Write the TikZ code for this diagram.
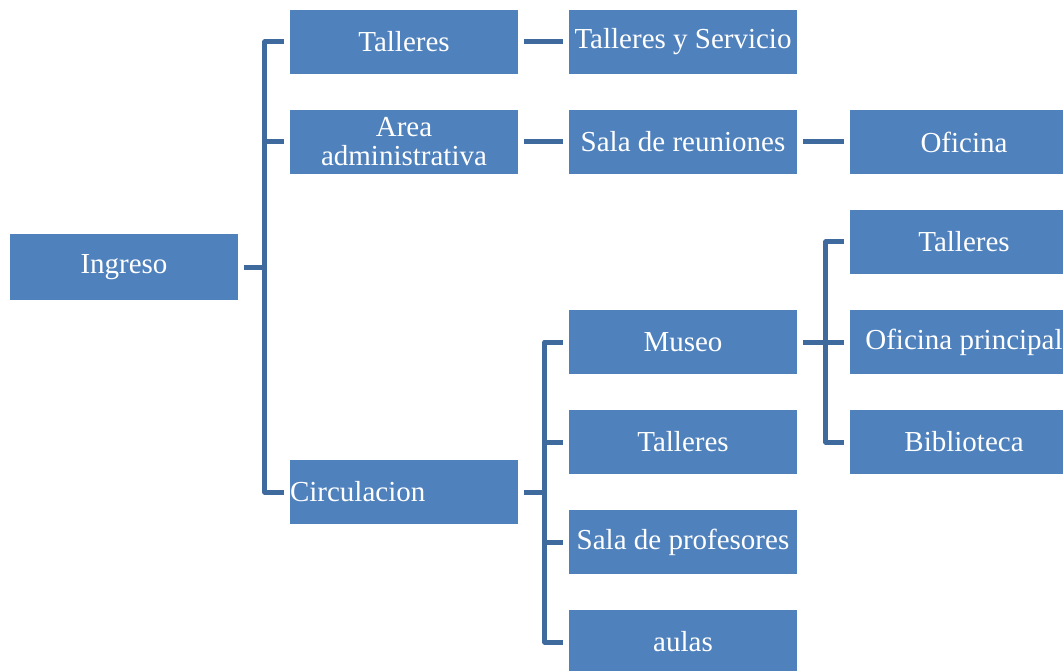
\documentclass[tikz,border=0pt]{standalone}
\usepackage{fontspec}
\setmainfont{Liberation Serif}
\definecolor{boxblue}{HTML}{4F81BD}
\definecolor{lineblue}{HTML}{3F6A9E}
\begin{document}
\begin{tikzpicture}[x=1pt,y=-1pt,
  box/.style={rectangle, fill=boxblue, draw=none, minimum width=228pt, minimum height=64pt, inner sep=0pt,
    text=white, font=\fontsize{29}{29}\selectfont, align=center},
  conn/.style={draw=lineblue, line width=5pt, line join=round}]
\useasboundingbox (0,0) rectangle (1063,671);
\clip (0,0) rectangle (1063,671);
% column 1
\node[box, minimum height=65pt] (ing) at (124,267) {Ingreso};
% column 2
\node[box] (tal) at (404,42) {Talleres};
\node[box] (area) at (404,142) {Area\\administrativa};
\node[box] (circ) at (404,492) {};
\node[anchor=west, text=white, font=\fontsize{29}{29}\selectfont, inner sep=0pt] (circt) at (circ.west) {Circulacion};
% column 3
\node[box] (tys) at (683,42) {Talleres y Servicio};
\node[box] (sala) at (683,142) {Sala de reuniones};
\node[box] (mus) at (683,342) {Museo};
\node[box] (tal3) at (683,442) {Talleres};
\node[box] (prof) at (683,542) {Sala de profesores};
\node[box] (aul) at (683,642) {aulas};
% column 4
\node[box] (ofi) at (964,142) {Oficina};
\node[box] (tal4) at (964,242) {Talleres};
\node[box] (ofip) at (964,342) {Oficina principal};
\node[box] (bib) at (964,442) {Biblioteca};
% connectors from Ingreso
\draw[conn] ([xshift=6pt]ing.east) -- ([xshift=-25pt]ing.east -| tal.west);
\draw[conn] ([xshift=-6pt]tal.west) -| ([xshift=-25pt]circ.west) -- ([xshift=-6pt]circ.west);
\draw[conn] ([xshift=-6pt]area.west) -- ([xshift=-25pt]area.west);
% row connectors
\draw[conn] ([xshift=6pt]tal.east) -- ([xshift=-6pt]tys.west);
\draw[conn] ([xshift=6pt]area.east) -- ([xshift=-6pt]sala.west);
\draw[conn] ([xshift=6pt]sala.east) -- ([xshift=-6pt]ofi.west);
% connectors from Circulacion
\draw[conn] ([xshift=6pt]circ.east) -- ([xshift=-24pt]circ.east -| mus.west);
\draw[conn] ([xshift=-6pt]mus.west) -| ([xshift=-24pt]aul.west) -- ([xshift=-6pt]aul.west);
\draw[conn] ([xshift=-6pt]tal3.west) -- ([xshift=-24pt]tal3.west);
\draw[conn] ([xshift=-6pt]prof.west) -- ([xshift=-24pt]prof.west);
% connectors from Museo
\draw[conn] ([xshift=6pt]mus.east) -- ([xshift=-6pt]ofip.west);
\draw[conn] ([xshift=-6pt]tal4.west) -| ([xshift=-24pt]bib.west) -- ([xshift=-6pt]bib.west);
\end{tikzpicture}
\end{document}
